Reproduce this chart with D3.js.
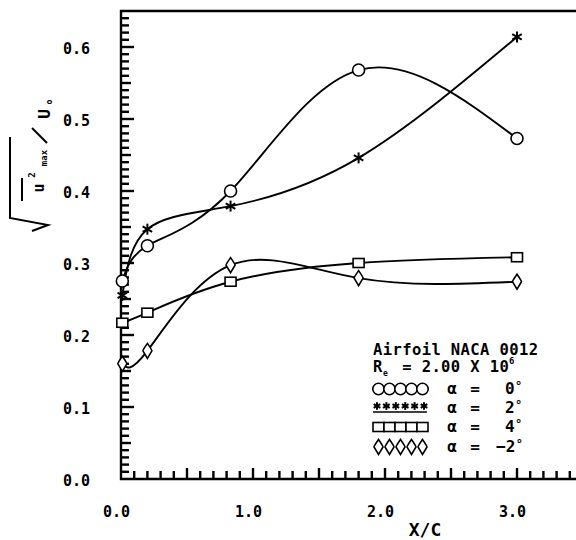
<!DOCTYPE html>
<html>
<head>
<meta charset="utf-8">
<script src="https://cdn.jsdelivr.net/npm/d3@7"></script>
<style>
body { margin: 0; background: #fff; }
svg { display: block; }
text { font-family: "DejaVu Sans Mono", monospace; font-weight: bold; fill: #000; }
</style>
</head>
<body>
<svg id="chart" width="576" height="540"></svg>
<script>
// data
var xc = [0.01, 0.2, 0.83, 1.8, 3.0];
var alpha0 = [0.275, 0.324, 0.400, 0.568, 0.473];
var alpha2 = [0.255, 0.347, 0.379, 0.446, 0.614];
var alpha4 = [0.217, 0.231, 0.274, 0.300, 0.308];
var alphaM2 = [0.160, 0.178, 0.297, 0.279, 0.274];
var xTicks = [0, 1, 2, 3];
var yTicks = [0, 0.1, 0.2, 0.3, 0.4, 0.5, 0.6];
var yMinorTicks = d3.range(1, 65).map(function (n) { return n / 100; });
var xMinorTicks = d3.range(1, 35).map(function (n) { return n / 10; });
var legendAngles = ["0", "2", "4", "\u22122"];
var markTypes = ["circle", "star", "square", "diamond"];

var series = [alpha0, alpha2, alpha4, alphaM2].map(function (vals, i) {
    return { mark: markTypes[i], pts: vals.map(function (v, j) { return [xc[j], v]; }) };
});

var svg = d3.select('#chart');
var x = d3.scaleLinear().domain([0, 3.5]).range([121, 583]);
var y = d3.scaleLinear().domain([0, 0.65]).range([479, 11]);

// frame
svg.append('path')
    .attr('d', 'M576,' + y(0.65) + 'H' + x(0) + 'V' + y(0) + 'H576')
    .attr('fill', 'none').attr('stroke', '#000').attr('stroke-width', 2.4);

// ticks pointing into the plot
var tickG = svg.append('g').attr('stroke', '#000').attr('stroke-width', 2.4);
tickG.selectAll('line.yt')
    .data(yMinorTicks)
    .enter().append('line')
    .attr('class', 'yt')
    .attr('x1', x(0) - 1)
    .attr('x2', function (d, i) { var n = i + 1; return x(0) + (n % 10 === 0 ? 13 : (n % 5 === 0 ? 10 : 8)); })
    .attr('y1', function (d) { return y(d); })
    .attr('y2', function (d) { return y(d); });
tickG.selectAll('line.xt')
    .data(xMinorTicks)
    .enter().append('line')
    .attr('class', 'xt')
    .attr('x1', function (d) { return x(d); })
    .attr('x2', function (d) { return x(d); })
    .attr('y1', y(0) + 1)
    .attr('y2', function (d, i) { return y(0) - ((i + 1) % 5 === 0 ? 11 : 8); });

// tick labels
var yl = svg.append('g').attr('transform', 'translate(' + x(0) + ',2)')
    .call(d3.axisLeft(y).tickValues(yTicks).tickSize(0).tickPadding(31).tickFormat(d3.format('.1f')));
yl.select('.domain').remove();
yl.selectAll('text').style('font-size', '15px').style('font-family', '"DejaVu Sans Mono", monospace');

var xl = svg.append('g').attr('transform', 'translate(-5,' + y(0) + ')')
    .call(d3.axisBottom(x).tickValues(xTicks).tickSize(0).tickPadding(27).tickFormat(d3.format('.1f')));
xl.select('.domain').remove();
xl.selectAll('text').style('font-size', '15px').style('font-family', '"DejaVu Sans Mono", monospace');

svg.append('text').attr('x', 425).attr('y', 536).attr('text-anchor', 'middle')
    .style('font-size', '18px').text('X/C');

// markers
function drawMark(g, type, cx, cy, s) {
    s = s || 1;
    if (type === 'circle') {
        g.append('circle').attr('cx', cx).attr('cy', cy).attr('r', 6 * s)
            .attr('fill', '#fff').attr('stroke', '#000').attr('stroke-width', 1.6);
    } else if (type === 'star') {
        [90, 30, 150].forEach(function (a) {
            var r = 5.5 * s, dx = r * Math.cos(a * Math.PI / 180), dy = r * Math.sin(a * Math.PI / 180);
            g.append('line').attr('x1', cx - dx).attr('y1', cy - dy).attr('x2', cx + dx).attr('y2', cy + dy)
                .attr('stroke', '#000').attr('stroke-width', 2);
        });
    } else if (type === 'square') {
        g.append('rect').attr('x', cx - 5.5 * s).attr('y', cy - 4.5 * s)
            .attr('width', 11 * s).attr('height', 9 * s)
            .attr('fill', '#fff').attr('stroke', '#000').attr('stroke-width', 1.6);
    } else {
        var w = 4.5 * s, h = 7.5 * s;
        g.append('path')
            .attr('d', 'M' + cx + ',' + (cy - h) + 'Q' + (cx + w) + ',' + (cy - 1) + ' ' + (cx + w) + ',' + cy +
                'L' + cx + ',' + (cy + h) + 'L' + (cx - w) + ',' + cy + 'Q' + (cx - w) + ',' + (cy - 1) + ' ' + cx + ',' + (cy - h) + 'Z')
            .attr('fill', '#fff').attr('stroke', '#000').attr('stroke-width', 1.6);
    }
}

var line = d3.line()
    .x(function (d) { return x(d[0]); })
    .y(function (d) { return y(d[1]); })
    .curve(d3.curveNatural);

series.forEach(function (s) {
    svg.append('path').attr('d', line(s.pts))
        .attr('fill', 'none').attr('stroke', '#000').attr('stroke-width', 1.9);
});
series.forEach(function (s) {
    var g = svg.append('g');
    s.pts.forEach(function (p) { drawMark(g, s.mark, x(p[0]), y(p[1])); });
});

// legend
var lg = svg.append('g');
lg.append('text').attr('x', 373).attr('y', 355).style('font-size', '15.5px').style('letter-spacing', '0.4px')
    .text('Airfoil NACA 0012');
lg.append('text').attr('x', 373).attr('y', 372).style('font-size', '15.5px').style('letter-spacing', '0.4px')
    .attr('xml:space', 'preserve').text('R  = 2.00 X 10');
lg.append('text').attr('x', 383).attr('y', 376).style('font-size', '8px').text('e');
lg.append('text').attr('x', 509).attr('y', 364).style('font-size', '9px').text('6');

var rowY = [389, 408, 427, 447];
markTypes.forEach(function (t, i) {
    var g = lg.append('g');
    var cy = rowY[i];
    if (t === 'star') {
        for (var k = 0; k < 6; k++) drawMark(g, t, 377 + k * 9.4, cy - 2, 0.7);
        g.append('line').attr('x1', 373).attr('x2', 427).attr('y1', cy + 4).attr('y2', cy + 4)
            .attr('stroke', '#000').attr('stroke-width', 1.6);
    } else {
        for (var k = 0; k < 5; k++) drawMark(g, t, 378.5 + k * 11, cy, t === 'circle' ? 0.95 : 1);
    }
    g.append('text').attr('x', 452).attr('y', cy + 5).attr('text-anchor', 'middle').style('font-size', '16px').text('\u03b1');
    g.append('text').attr('x', 475).attr('y', cy + 5).attr('text-anchor', 'middle').style('font-size', '16px').text('=');
    var val = legendAngles[i];
    var vx = val.length > 1 ? 496 : 505;
    g.append('text').attr('x', vx).attr('y', cy + 5).style('font-size', '16px').text(val);
    g.append('text').attr('x', vx + val.length * 9.6 + 0.5).attr('y', cy + 1).style('font-size', '12px').text('\u00b0');
});

// y axis title: sqrt(u'^2 max)/U0, rotated
var yt = svg.append('g');
yt.append('path').attr('d', 'M32,231 L48,225 L10,218 L10,137')
    .attr('fill', 'none').attr('stroke', '#000').attr('stroke-width', 2);
yt.append('line').attr('x1', 22).attr('x2', 22).attr('y1', 178).attr('y2', 201)
    .attr('stroke', '#000').attr('stroke-width', 2);
yt.append('text').attr('transform', 'translate(44,188) rotate(-90)').attr('text-anchor', 'middle')
    .style('font-size', '15px').text('u');
yt.append('text').attr('transform', 'translate(35,175) rotate(-90)').attr('text-anchor', 'middle')
    .style('font-size', '9px').text('2');
yt.append('text').attr('transform', 'translate(47,158) rotate(-90)').attr('text-anchor', 'middle')
    .style('font-size', '9px').text('max');
yt.append('line').attr('x1', 47).attr('y1', 143).attr('x2', 32).attr('y2', 128)
    .attr('stroke', '#000').attr('stroke-width', 2);
yt.append('text').attr('transform', 'translate(50,114) rotate(-90)').attr('text-anchor', 'middle')
    .style('font-size', '16px').text('U');
yt.append('text').attr('transform', 'translate(52,102) rotate(-90)').attr('text-anchor', 'middle')
    .style('font-size', '8px').text('o');
</script>
</body>
</html>
